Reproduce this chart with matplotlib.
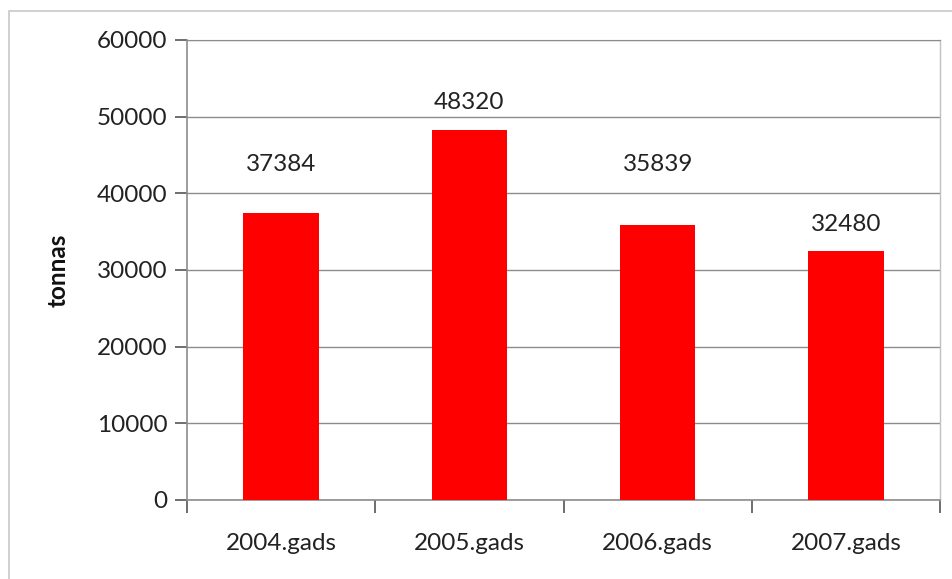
import matplotlib
matplotlib.use('Agg')
from matplotlib import pyplot as plt
from matplotlib.patches import Rectangle

years = ['2004.gads', '2005.gads', '2006.gads', '2007.gads']
tonnas = [37384, 48320, 35839, 32480]
# height where each value label sits (as placed in the original chart)
label_heights = [43700, 51800, 43700, 35900]
y_ticks = [0, 10000, 20000, 30000, 40000, 50000, 60000]

plt.rcParams['font.family'] = ['Lato', 'DejaVu Sans']
fs = 17.5

fig = plt.figure(figsize=(9.53, 5.79), dpi=100)
fig.patches.append(Rectangle((9 / 953, -0.01), 1.0, (579 - 11) / 579 + 0.01,
                             transform=fig.transFigure, fill=False,
                             edgecolor='#c8c8c8', linewidth=1.2))

ax = fig.add_axes([187 / 953, 79 / 579, 753 / 953, 460 / 579])
x = list(range(len(years)))
ax.bar(x, tonnas, width=0.4, color='#ff0000', zorder=3)

for xi, v, h in zip(x, tonnas, label_heights):
    ax.text(xi, h, str(v), ha='center', va='center', fontsize=fs, color='#222222', zorder=4)

ax.set_xlim(-0.5, len(years) - 0.5)
ax.set_ylim(0, 60000)
ax.set_yticks(y_ticks)
ax.set_yticklabels([str(t) for t in y_ticks])
ax.yaxis.grid(True, color='#8c8c8c', linewidth=1.0, zorder=0)

ax.set_xticks(x)
ax.set_xticklabels(years)
ax.set_xticks([i - 0.5 for i in range(len(years) + 1)], minor=True)
ax.tick_params(axis='x', which='major', length=0, pad=24, labelsize=fs, colors='#222222')
ax.tick_params(axis='x', which='minor', length=9, width=1.2, color='#555555', direction='out')
ax.tick_params(axis='y', length=9, width=1.2, color='#555555', pad=5, labelsize=fs,
               labelcolor='#222222')

for side in ['left', 'bottom']:
    ax.spines[side].set_color('#8c8c8c')
    ax.spines[side].set_linewidth(1.2)
ax.spines['right'].set_color('#c0c0c0')
ax.spines['right'].set_linewidth(1.0)
ax.spines['top'].set_color('#8c8c8c')

ax.set_ylabel('tonnas', fontsize=fs, fontweight='bold', labelpad=20, color='#111111')

fig.savefig('out.png', dpi=100)
